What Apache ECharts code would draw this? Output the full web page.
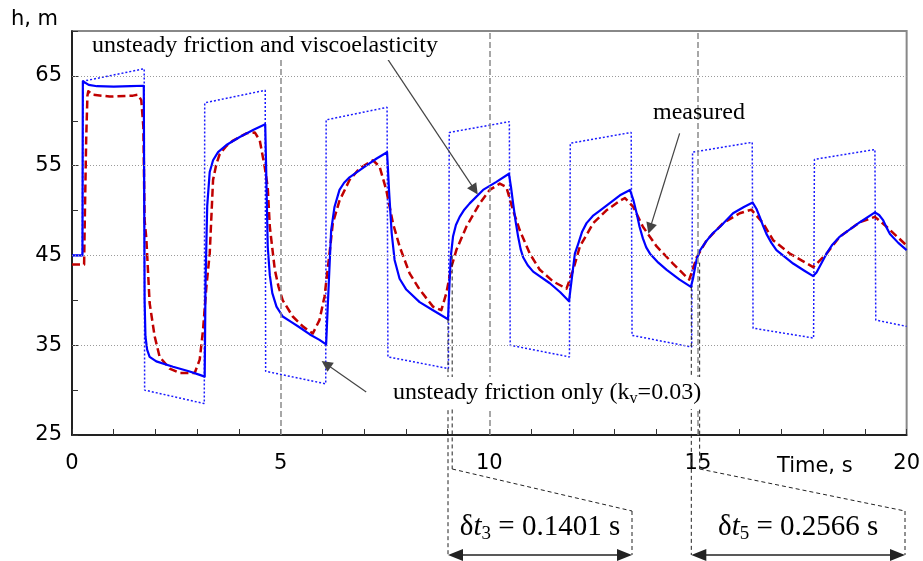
<!DOCTYPE html>
<html>
<head>
<meta charset="utf-8">
<script src="https://cdn.jsdelivr.net/npm/echarts/dist/echarts.min.js"></script>
<style>
  html, body { margin: 0; padding: 0; background: #fff; }
  #chart { width: 923px; height: 561px; }
</style>
</head>
<body>
<div id="chart"></div>
<script>
// [time s, head m]
const measured = [
  [0, 44], [0.29, 44], [0.31, 50], [0.34, 58], [0.37, 62.8], [0.39, 63.3], [0.5, 62.9], [0.9, 62.7],
  [1.46, 62.8], [1.58, 62.9], [1.66, 62.3], [1.71, 59.3], [1.74, 48.9], [1.78, 47.0], [1.86, 39.7],
  [1.98, 36.0], [2.10, 33.7], [2.34, 32.4], [2.58, 31.9], [2.94, 31.9], [3.06, 33.4], [3.14, 36.7],
  [3.22, 41.5], [3.30, 45.2], [3.38, 53.4], [3.46, 55.2], [3.54, 56.3], [3.70, 57.2], [3.86, 57.8],
  [4.18, 58.6], [4.38, 58.7], [4.50, 57.8], [4.62, 54.8], [4.69, 52.6], [4.74, 48.2], [4.86, 43.4],
  [4.95, 41.5], [5.05, 40.0], [5.29, 38.2], [5.53, 37.1], [5.77, 36.3], [5.93, 37.8], [6.05, 40.4],
  [6.17, 45.2], [6.25, 48.6], [6.41, 51.1], [6.65, 53.4], [6.89, 54.7], [7.21, 55.6], [7.37, 54.9],
  [7.53, 52.3], [7.69, 48.6], [7.85, 46.0], [8.09, 43.0], [8.33, 41.2], [8.65, 39.3], [8.85, 38.9],
  [8.97, 40.8], [9.09, 43.7], [9.21, 45.6], [9.45, 48.2], [9.77, 50.8], [10.01, 52.3], [10.25, 53.0],
  [10.41, 52.6], [10.57, 50.0], [10.73, 47.8], [10.97, 45.2], [11.21, 43.4], [11.53, 42.1], [11.85, 41.3],
  [12.01, 43.4], [12.17, 46.0], [12.49, 48.6], [12.80, 50.0], [13.13, 51.1], [13.25, 51.4], [13.45, 50.4],
  [13.68, 48.2], [14.01, 46.0], [14.40, 44.1], [14.79, 42.3], [14.88, 43.5], [14.97, 44.8], [15.21, 46.7],
  [15.60, 48.6], [16.00, 49.7], [16.28, 50.1], [16.56, 48.6], [16.80, 46.7], [17.20, 45.2], [17.50, 44.4],
  [17.76, 43.7], [18.08, 45.2], [18.40, 47.1], [18.88, 48.7], [19.24, 49.3], [19.52, 48.2], [20, 46.1]
];

const viscoelastic = [
  [0, 45], [0.25, 45], [0.26, 64.4], [0.4, 64.0], [0.6, 63.85], [1.0, 63.8], [1.4, 63.85], [1.72, 63.9],
  [1.74, 40.0], [1.76, 36.0], [1.80, 34.5], [1.86, 33.7], [2.02, 33.2], [2.42, 32.6], [2.80, 32.1],
  [3.06, 31.7], [3.18, 31.5], [3.20, 42.0], [3.24, 50.5], [3.30, 54.3], [3.38, 55.6], [3.50, 56.5],
  [3.70, 57.3], [4.02, 58.2], [4.35, 59.0], [4.63, 59.6], [4.66, 53.0], [4.69, 46.0], [4.74, 42.8],
  [4.80, 40.8], [4.90, 39.3], [5.05, 38.2], [5.25, 37.6], [5.45, 37.0], [5.70, 36.2], [5.93, 35.6],
  [6.09, 35.1], [6.13, 39.5], [6.17, 43.7], [6.21, 47.8], [6.29, 50.4], [6.41, 52.3], [6.52, 53.1],
  [6.65, 53.7], [7.05, 55.0], [7.30, 55.8], [7.55, 56.5], [7.60, 52.0], [7.66, 47.5], [7.73, 44.5],
  [7.85, 42.4], [8.01, 41.2], [8.33, 39.8], [8.65, 38.9], [9.01, 37.9], [9.05, 42.3], [9.08, 45.0],
  [9.13, 47.1], [9.20, 48.4], [9.29, 49.3], [9.40, 50.1], [9.53, 50.8], [9.85, 52.3], [10.17, 53.2],
  [10.47, 54.1], [10.52, 52.6], [10.57, 50.8], [10.63, 48.8], [10.69, 47.1], [10.75, 45.7], [10.81, 44.8],
  [10.92, 43.9], [11.05, 43.2], [11.45, 41.9], [11.70, 40.9], [11.91, 39.9], [12.01, 43.7], [12.05, 45.2],
  [12.13, 46.3], [12.22, 47.6], [12.33, 48.6], [12.48, 49.4], [12.65, 50.0], [13.13, 51.7], [13.37, 52.3],
  [13.45, 51.2], [13.53, 49.7], [13.60, 48.2], [13.68, 46.9], [13.76, 45.9], [13.85, 45.2], [14.05, 44.2],
  [14.25, 43.4], [14.56, 42.3], [14.83, 41.5], [14.88, 42.4], [14.92, 43.4], [14.97, 44.6], [15.04, 45.5],
  [15.20, 46.6], [15.36, 47.5], [15.53, 48.2], [15.84, 49.7], [16.10, 50.4], [16.31, 50.9], [16.40, 50.2],
  [16.48, 49.3], [16.56, 48.3], [16.64, 47.4], [16.76, 46.4], [16.88, 45.6], [17.28, 44.1], [17.55, 43.3],
  [17.76, 42.7], [17.84, 43.1], [17.92, 43.8], [18.08, 45.2], [18.22, 46.2], [18.40, 47.1], [18.88, 48.7],
  [19.24, 49.8], [19.34, 49.5], [19.44, 48.9], [19.52, 48.1], [19.60, 47.4], [19.80, 46.4], [20, 45.6]
];

const frictionOnly = [
  [0, 45], [0.25, 45], [0.26, 64.4], [1.73, 65.8], [1.74, 30.0], [3.17, 28.5], [3.18, 62.0], [4.63, 63.4],
  [4.64, 32.1], [6.08, 30.7], [6.09, 60.1], [7.55, 61.5], [7.57, 33.7], [9.02, 32.4], [9.04, 58.7],
  [10.48, 59.9], [10.50, 35.0], [11.92, 33.7], [11.94, 57.5], [13.40, 58.7], [13.42, 36.1], [14.85, 34.8],
  [14.87, 56.5], [16.30, 57.6], [16.32, 36.9], [17.77, 35.8], [17.79, 55.7], [19.24, 56.8], [19.26, 37.8],
  [20, 37.1]
];

const yLabelValues = [25, 35, 45, 55, 65];
const yGridValues = [35, 45, 55, 65];
const refTimes = [5, 10, 15];

// arrows: [tail, head] in data units
const arrows = [
  [[7.56, 66.9], [9.65, 52.3]],
  [[14.56, 58.6], [13.85, 48.0]],
  [[7.05, 29.8], [6.09, 32.9]]
];

// time shift markers: model minimum vs measured start
const shifts = [
  { idx: '3', text: ' = 0.1401 s', t1: 9.01, h1: 37.9, t2: 9.11, h2: 45.0 },
  { idx: '5', text: ' = 0.2566 s', t1: 14.84, h1: 41.5, t2: 15.04, h2: 44.2 }
];

const serif = '"Liberation Serif", "Times New Roman", serif';
const sans = '"DejaVu Sans", sans-serif';

const chart = echarts.init(document.getElementById('chart'));

const option = {
  animation: false,
  grid: { left: 72, right: 16, top: 31, bottom: 126, show: true, borderColor: '#888', borderWidth: 2 },
  xAxis: {
    type: 'value', min: 0, max: 20, interval: 5,
    axisLine: { lineStyle: { color: '#000', width: 1.5 } },
    axisTick: { inside: true, length: 6, lineStyle: { color: '#333' } },
    minorTick: { show: true, splitNumber: 5, length: 6, lineStyle: { color: '#333' } },
    splitLine: { show: false },
    axisLabel: { fontFamily: sans, fontSize: 21, color: '#000', margin: 18 },
    name: 'Time, s', nameLocation: 'end', nameGap: -54,
    nameTextStyle: { fontFamily: sans, fontSize: 21, color: '#000', align: 'right', verticalAlign: 'top', padding: [21, 0, 0, 0] }
  },
  yAxis: {
    type: 'value', min: 25, max: 70, interval: 5,
    axisLine: { show: true, lineStyle: { color: '#000', width: 1.5 } },
    axisTick: { show: true, inside: true, length: 6, lineStyle: { color: '#333' } },
    splitLine: { show: false },
    axisLabel: {
      fontFamily: sans, fontSize: 21, color: '#000', margin: 10,
      formatter: v => (yLabelValues.includes(v) ? String(v) : '')
    },
    name: 'h, m', nameLocation: 'end', nameGap: 1,
    nameTextStyle: { fontFamily: sans, fontSize: 21, color: '#000', align: 'right', verticalAlign: 'bottom', padding: [0, 14, 0, 0] }
  },
  series: [
    {
      name: 'unsteady friction only', type: 'line', data: frictionOnly, showSymbol: false,
      lineStyle: { color: '#1a1aff', width: 1.5, type: [2, 2] }, z: 2,
      markLine: {
        silent: true, symbol: 'none', label: { show: false }, animation: false,
        data: [
          ...yGridValues.map(v => ({ yAxis: v, lineStyle: { color: '#9a9a9a', width: 1, type: [1, 2] } })),
          ...refTimes.map(t => ({ xAxis: t, lineStyle: { color: '#8a8a8a', width: 1.5, type: [6, 3] } }))
        ]
      }
    },
    {
      name: 'measured', type: 'line', data: measured, showSymbol: false,
      lineStyle: { color: '#c00000', width: 2.5, type: [8, 4], join: 'round' }, z: 3
    },
    {
      name: 'unsteady friction and viscoelasticity', type: 'line', data: viscoelastic, showSymbol: false,
      lineStyle: { color: '#0000ff', width: 2.2, join: 'round' }, z: 4,
      markLine: {
        silent: true, symbol: ['none', 'triangle'], symbolSize: 11, label: { show: false }, animation: false,
        lineStyle: { color: '#444', width: 1.2, type: 'solid' },
        data: arrows.map(a => [{ coord: a[0] }, { coord: a[1] }])
      }
    }
  ]
};

chart.setOption(option);

// annotations drawn in pixel space, anchored to the data positions
const px = (t, h) => chart.convertToPixel({ gridIndex: 0 }, [t, h]);
const slantTop = 469, slantBottom = 511, arrowY = 555;
const boxRight = [632, 905];
const dash = { stroke: '#222', lineWidth: 1, lineDash: [4, 3] };
const els = [];

const noteText = (x, y, rich, text, bg) => ({
  type: 'text', x, y, z: 100,
  style: {
    text, rich, fill: '#000', fontFamily: serif, fontSize: 24,
    align: 'left', verticalAlign: 'middle',
    backgroundColor: bg ? '#fff' : null, padding: bg ? [2, 3] : 0
  }
});

els.push(noteText(89, 46, null, 'unsteady friction and viscoelasticity', true));
els.push(noteText(653, 113, null, 'measured', false));
els.push(noteText(390, 393, {
  n: { fontFamily: serif, fontSize: 24, lineHeight: 28, fill: '#000' },
  s: { fontFamily: serif, fontSize: 16, lineHeight: 14, fill: '#000', verticalAlign: 'bottom' }
}, '{n|unsteady friction only (k}{s|v}{n|=0.03)}', true));

shifts.forEach((d, i) => {
  const a = px(d.t1, d.h1), b = px(d.t2, d.h2);
  const r = boxRight[i];
  const line = (x1, y1, x2, y2, style) => els.push({ type: 'line', z: 90, shape: { x1, y1, x2, y2 }, style });
  line(a[0], a[1], a[0], arrowY, dash);
  line(b[0], b[1], b[0], slantTop, dash);
  line(b[0], slantTop, r, slantBottom, dash);
  line(r, slantBottom, r, arrowY, dash);
  line(a[0] + 8, arrowY, r - 8, arrowY, { stroke: '#222', lineWidth: 1.5 });
  els.push({ type: 'polygon', z: 91, shape: { points: [[a[0], arrowY], [a[0] + 15, arrowY - 6], [a[0] + 15, arrowY + 6]] }, style: { fill: '#222' } });
  els.push({ type: 'polygon', z: 91, shape: { points: [[r, arrowY], [r - 15, arrowY - 6], [r - 15, arrowY + 6]] }, style: { fill: '#222' } });
  els.push({
    type: 'text', z: 100, x: (a[0] + r) / 2, y: 527,
    style: {
      text: '{m|δ}{i|t}{s|' + d.idx + '}{m|' + d.text + '}',
      align: 'center', verticalAlign: 'middle', fill: '#000',
      rich: {
        m: { fontFamily: serif, fontSize: 29, lineHeight: 34, fill: '#000' },
        i: { fontFamily: serif, fontSize: 29, lineHeight: 34, fontStyle: 'italic', fill: '#000' },
        s: { fontFamily: serif, fontSize: 19, lineHeight: 18, fill: '#000', verticalAlign: 'bottom' }
      }
    }
  });
});

chart.setOption({ graphic: { elements: els } });
</script>
</body>
</html>
